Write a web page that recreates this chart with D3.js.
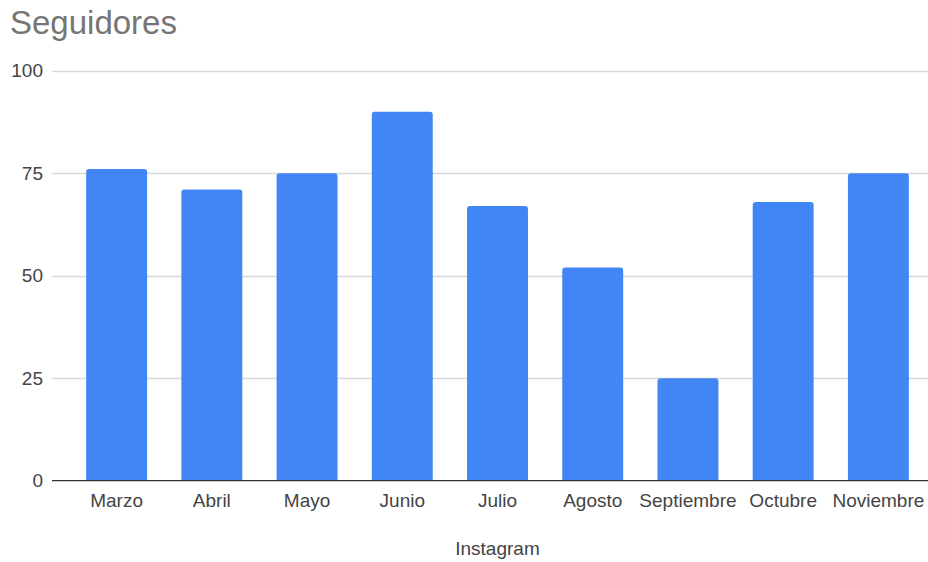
<!DOCTYPE html>
<html>
<head>
<meta charset="utf-8">
<script src="https://cdn.jsdelivr.net/npm/d3@7"></script>
<style>
  html, body { margin: 0; padding: 0; background: #fff; }
  svg { display: block; font-family: "Liberation Sans", Arial, sans-serif; }
</style>
</head>
<body>
<svg id="chart" width="928" height="562"></svg>
<script>
const title = "Seguidores";
const xAxisTitle = "Instagram";
const months = ["Marzo", "Abril", "Mayo", "Junio", "Julio", "Agosto", "Septiembre", "Octubre", "Noviembre"];
const followers = [76, 71, 75, 90, 67, 52, 25, 68, 75];
const yTicks = [0, 25, 50, 75, 100];

const svg = d3.select("#chart");
const gridLeft = 52, gridRight = 928;
const x = d3.scaleBand().domain(months).range([69, 926]).paddingInner(0.36).paddingOuter(0.18);
const y = d3.scaleLinear().domain([0, 100]).range([480.7, 70.7]);

svg.append("text")
  .attr("x", 10).attr("y", 34)
  .attr("font-size", 33).attr("fill", "#757575")
  .text(title);

// gridlines
svg.append("g").selectAll("line")
  .data(yTicks.filter(d => d !== 0))
  .join("line")
  .attr("x1", gridLeft).attr("x2", gridRight)
  .attr("y1", d => Math.round(y(d)) + 0.5).attr("y2", d => Math.round(y(d)) + 0.5)
  .attr("stroke", "#d9d9d9").attr("stroke-width", 1.5);

// y tick labels
svg.append("g").selectAll("text")
  .data(yTicks)
  .join("text")
  .attr("x", 43).attr("y", d => y(d))
  .attr("dy", "0.35em")
  .attr("text-anchor", "end")
  .attr("font-size", 19).attr("fill", "#444")
  .text(d => d);

// bars with rounded top corners
const r = 3;
svg.append("g").selectAll("path")
  .data(months.map((m, i) => ({ m, v: followers[i] })))
  .join("path")
  .attr("fill", "#4285F4")
  .attr("d", d => {
    const x0 = x(d.m), w = x.bandwidth(), y0 = y(d.v), yb = y(0);
    return `M${x0},${yb} L${x0},${y0 + r} Q${x0},${y0} ${x0 + r},${y0} L${x0 + w - r},${y0} Q${x0 + w},${y0} ${x0 + w},${y0 + r} L${x0 + w},${yb} Z`;
  });

// baseline
svg.append("line")
  .attr("x1", gridLeft).attr("x2", gridRight)
  .attr("y1", y(0)).attr("y2", y(0))
  .attr("stroke", "#333").attr("stroke-width", 1.2);

// x labels
const xAxis = d3.axisBottom(x).tickSize(0).tickPadding(0);
const gx = svg.append("g").attr("transform", `translate(0,${y(0)})`).call(xAxis);
gx.select(".domain").remove();
gx.selectAll("text")
  .attr("y", 26).attr("dy", 0)
  .attr("font-size", 19).attr("fill", "#444")
  .attr("font-family", "Liberation Sans, Arial, sans-serif");

svg.append("text")
  .attr("x", (x.range()[0] + x.range()[1]) / 2).attr("y", 555)
  .attr("text-anchor", "middle")
  .attr("font-size", 19).attr("fill", "#444")
  .text(xAxisTitle);
</script>
</body>
</html>
